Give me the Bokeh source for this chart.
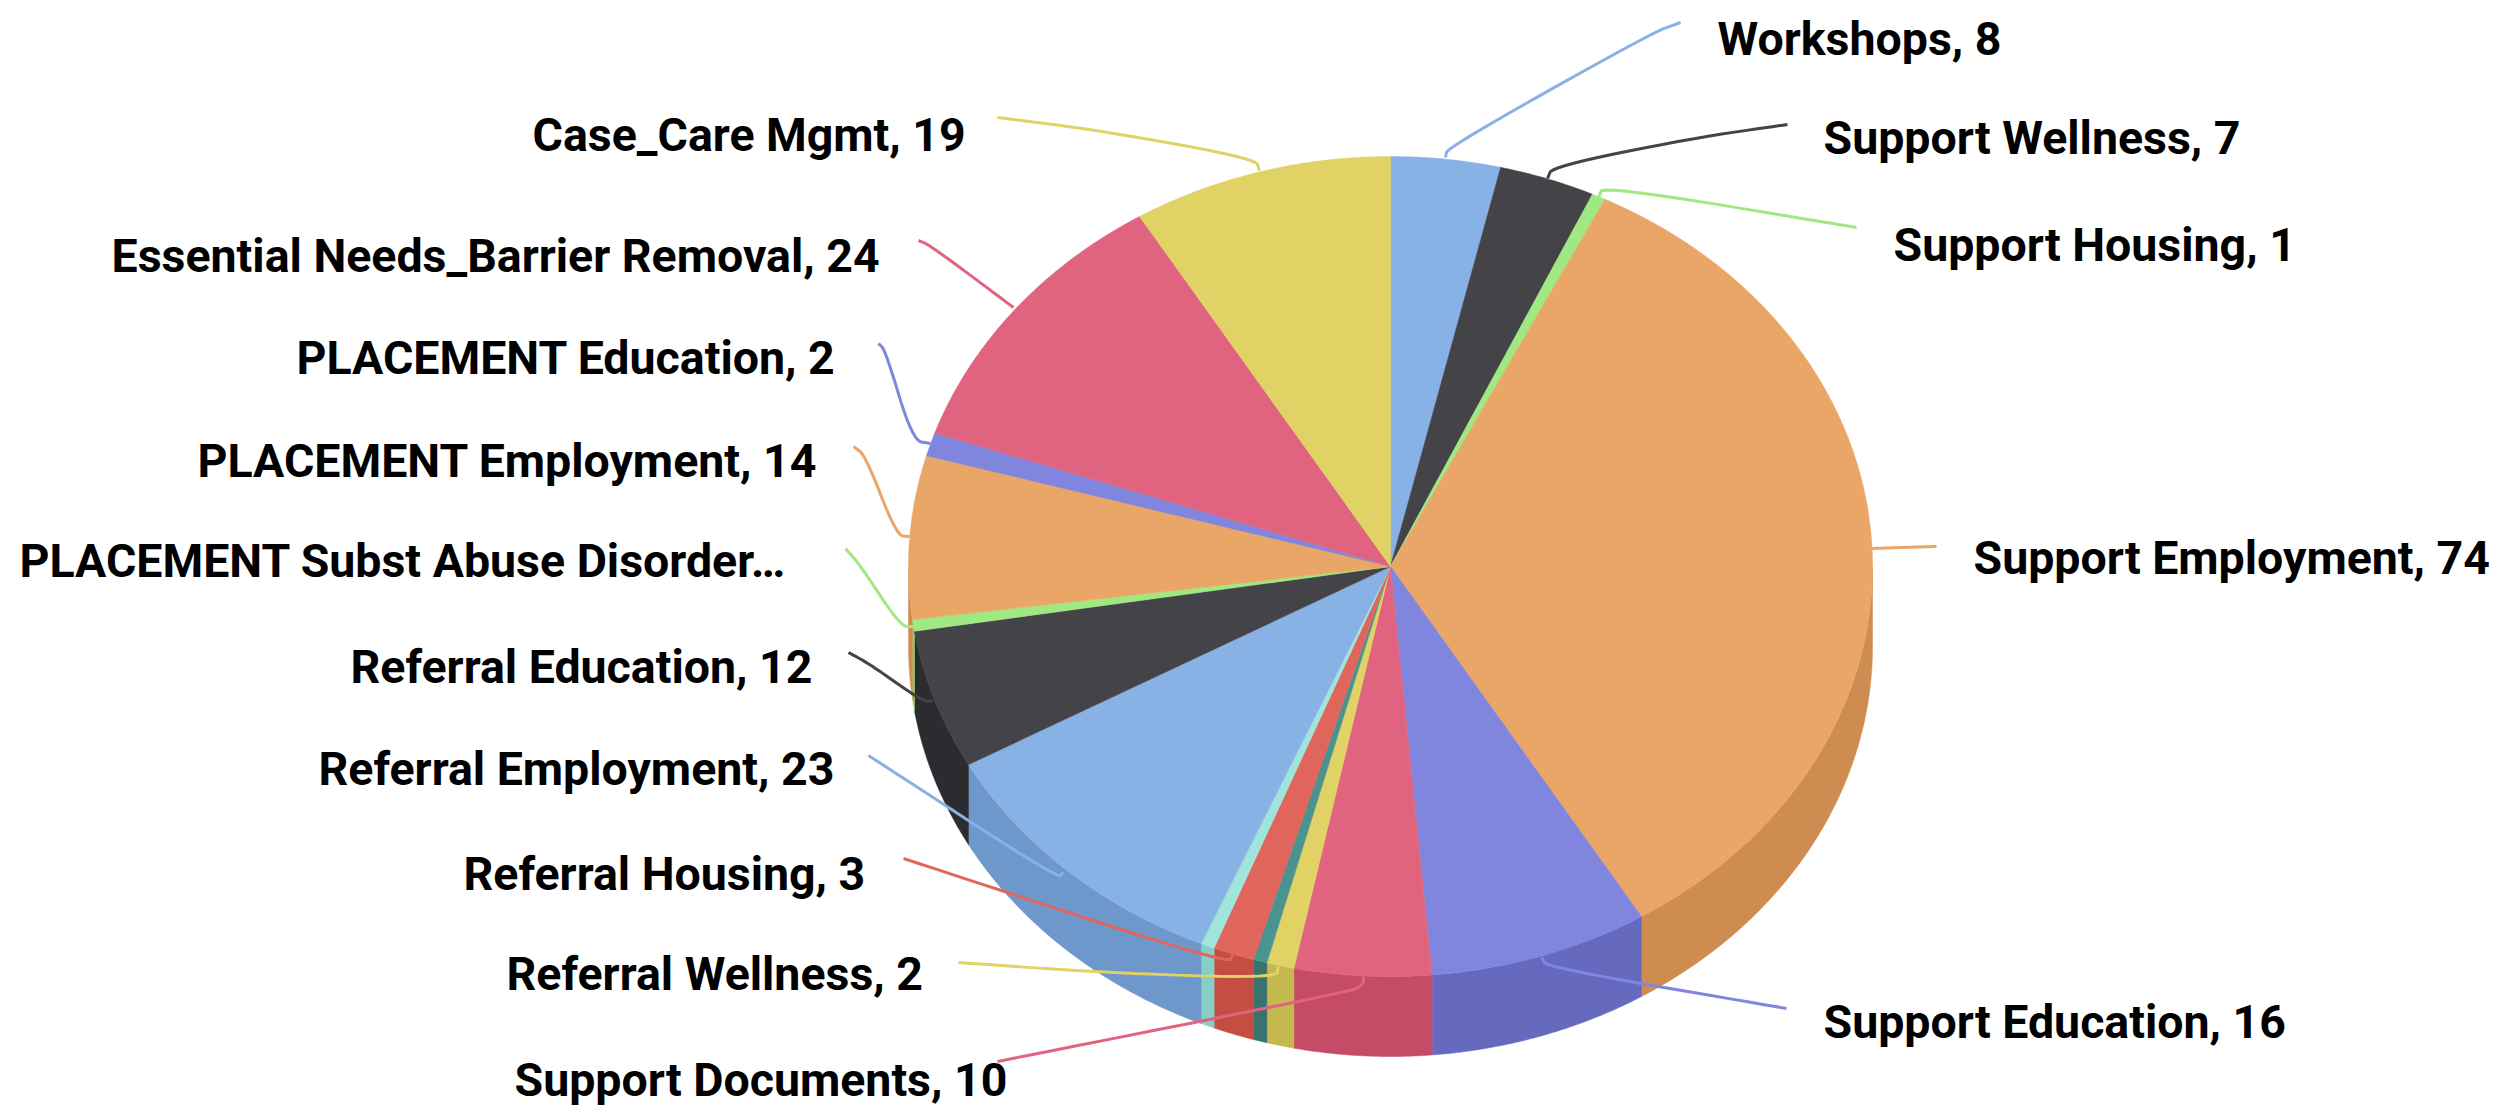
import numpy as np
from bokeh.plotting import figure
from bokeh.models import Range1d, ColumnDataSource
from bokeh.core.properties import value
from bokeh.embed import file_html
from bokeh.resources import INLINE

categories = ["Workshops", "Support Wellness", "Support Housing", "Support Employment",
              "Support Education", "Support Documents", "Referral Wellness", "Support Other",
              "Referral Housing", "Referral Other", "Referral Employment", "Referral Education",
              "PLACEMENT Subst Abuse Disorder", "PLACEMENT Employment", "PLACEMENT Education",
              "Essential Needs_Barrier Removal", "Case_Care Mgmt"]
values = [8, 7, 1, 74, 16, 10, 2, 1, 3, 1, 23, 12, 1, 14, 2, 24, 19]
labels = ["Workshops, 8", "Support Wellness, 7", "Support Housing, 1", "Support Employment, 74",
          "Support Education, 16", "Support Documents, 10", "Referral Wellness, 2", None,
          "Referral Housing, 3", None, "Referral Employment, 23", "Referral Education, 12",
          "PLACEMENT Subst Abuse Disorder\u2026", "PLACEMENT Employment, 14", "PLACEMENT Education, 2",
          "Essential Needs_Barrier Removal, 24", "Case_Care Mgmt, 19"]
top_colors = ["#88B2E5", "#444448", "#A0E882", "#E9A667", "#8085DE", "#E06480", "#E0D264", "#4A938F",
              "#E0655C", "#A0E5DC", "#88B2E5", "#444448", "#A0E882", "#E9A667", "#8085DE", "#E06480", "#E0D264"]
wall_colors = ["#6E98CC", "#2C2C30", "#87CF69", "#CE8C50", "#656ABF", "#C54B67", "#C5B84E", "#38736F",
               "#C64D42", "#87CFC5", "#6E98CC", "#2C2C30", "#87CF69", "#CE8C50", "#656ABF", "#C54B67", "#C5B84E"]

# layout (page pixels)
CX, CY, RX, RY, DEPTH = 1390, 566, 482, 410, 80
label_x = [1717, 1823, 1893, 1973, 1823, 514, 506, None, 463, None, 318, 350, 19, 197, 296, 111, 532]
label_y = [38, 137, 244, 557, 1021, 1079, 973, None, 873, None, 768, 666, 560, 460, 357, 255, 134]
leaders = [
    [(1680, 22), (1650, 33), (1447, 147), (1445, 157)],
    [(1787, 124), (1690, 138), (1552, 166), (1547, 178)],
    [(1856, 227), (1603, 185), (1598, 197)],
    [(1936, 546), (1900, 547), (1871, 548)],
    [(1786, 1008), (1547, 967), (1541, 957)],
    [(997, 1061), (1345, 992), (1363, 985), (1363, 975)],
    [(958, 962), (1100, 972), (1276, 978), (1278, 965)],
    None,
    [(903, 858), (1227, 964), (1233, 953)],
    None,
    [(868, 755), (1057, 878), (1063, 872)],
    [(848, 652), (870, 664), (922, 701), (933, 700)],
    [(845, 548), (860, 565), (900, 626), (913, 626)],
    [(853, 446), (865, 455), (896, 535), (909, 536)],
    [(878, 343), (885, 350), (912, 440), (930, 443)],
    [(918, 240), (930, 245), (1013, 307)],
    [(997, 117), (1100, 130), (1255, 158), (1259, 170)],
]


def smooth(pts, n=3):
    pts = [tuple(q) for q in pts]
    for _ in range(n):
        out = [pts[0]]
        for a, b in zip(pts[:-1], pts[1:]):
            out.append((0.75 * a[0] + 0.25 * b[0], 0.75 * a[1] + 0.25 * b[1]))
            out.append((0.25 * a[0] + 0.75 * b[0], 0.25 * a[1] + 0.75 * b[1]))
        out.append(pts[-1])
        pts = out
    return [q[0] for q in pts], [q[1] for q in pts]


p = figure(width=2500, height=1108, output_backend="svg", toolbar_location=None,
           x_range=Range1d(0, 2500), y_range=Range1d(1108, 0),
           min_border=0, outline_line_color=None, background_fill_color="white")
p.axis.visible = False
p.grid.visible = False

edges = np.cumsum([0] + values) / sum(values) * 2 * np.pi


def ex(t):
    return CX + RX * np.sin(t)


def ey(t):
    return CY - RY * np.cos(t)


# side walls: only the front half of the rim shows
wx, wy, wc = [], [], []
for a, b, c in zip(edges[:-1], edges[1:], wall_colors):
    lo, hi = max(a, np.pi / 2), min(b, 3 * np.pi / 2)
    if hi <= lo:
        continue
    t = np.linspace(lo, hi, 80)
    wx.append(list(ex(t)) + list(ex(t[::-1])))
    wy.append(list(ey(t)) + list(ey(t[::-1]) + DEPTH))
    wc.append(c)
p.patches(wx, wy, fill_color=wc, line_color=wc, line_width=0.5)

# top face
sx, sy, sc = [], [], []
for a, b, c in zip(edges[:-1], edges[1:], top_colors):
    t = np.linspace(a, b, max(8, int((b - a) * 120)))
    sx.append([CX] + list(ex(t)))
    sy.append([CY] + list(ey(t)))
    sc.append(c)
p.patches(sx, sy, fill_color=sc, line_color=sc, line_width=0.5)

# connectors
lx, ly, lc = [], [], []
for pts, c in zip(leaders, top_colors):
    if pts is None:
        continue
    x, y = smooth(pts)
    lx.append(x)
    ly.append(y)
    lc.append(c)
p.multi_line(lx, ly, line_color=lc, line_width=3)

# labels
rows = [(x, y, s) for x, y, s in zip(label_x, label_y, labels) if s is not None]
src = ColumnDataSource(dict(x=[r[0] for r in rows], y=[r[1] for r in rows], t=[r[2] for r in rows]))
p.text("x", "y", text="t", source=src, text_font=value("Roboto"),
       text_font_style="bold", text_font_size="46.5px", text_color="#000000",
       text_align="left", text_baseline="middle")

open("out.html", "w").write(file_html(p, INLINE))
